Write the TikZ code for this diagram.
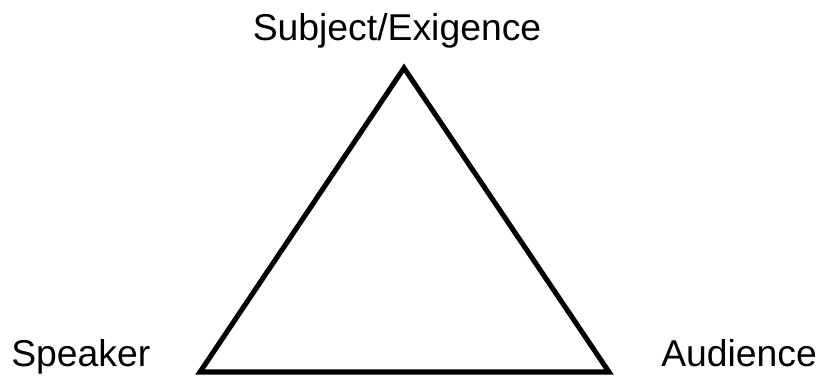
\documentclass[tikz,border=0pt]{standalone}
\usepackage{fontspec}
\setmainfont{Liberation Sans}
\begin{document}
\begin{tikzpicture}[x=0.75pt,y=-0.75pt,
  lbl/.style={font=\fontsize{28}{33}\selectfont, inner sep=0pt},
  tri/.style={line width=3.8pt, line join=miter, draw=black}]
\useasboundingbox (0,0) rectangle (818,379);
\coordinate (apex) at (404,68);
\coordinate (bl) at (200,372);
\coordinate (br) at (609,372);
\draw[tri] (apex) -- (bl) -- (br) -- cycle;
\node[lbl, anchor=base] (subj) at (397,40) {Subject/Exigence};
\node[lbl, anchor=base west] (spk) at (11,366) {Speaker};
\node[lbl, anchor=base west] (aud) at (661,366) {Audience};
\end{tikzpicture}
\end{document}
